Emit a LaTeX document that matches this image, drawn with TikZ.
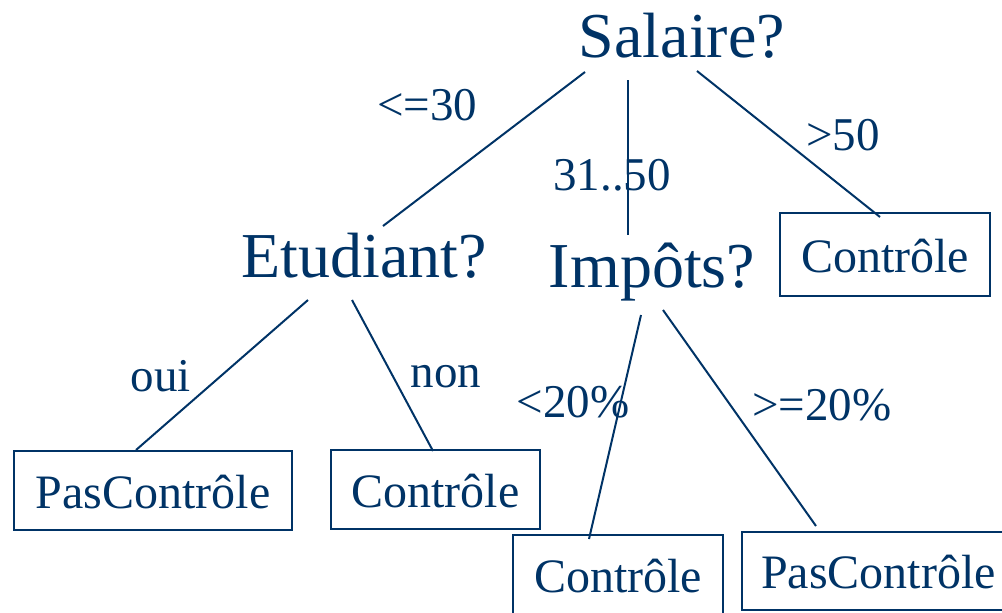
\documentclass[tikz,border=0pt]{standalone}
\usepackage{fontspec}
\setmainfont{Liberation Serif}
\usetikzlibrary{calc}
\definecolor{dblue}{RGB}{0,51,102}
\begin{document}
\begin{tikzpicture}[x=0.75pt,y=-0.75pt,
  every node/.style={text=dblue},
  q/.style={font=\fontsize{48}{58}\selectfont, anchor=base, inner sep=0pt},
  lab/.style={font=\fontsize{35.25}{42}\selectfont, anchor=base, inner sep=0pt},
  leaf/.style={draw=dblue, line width=1.5pt, font=\fontsize{36}{43}\selectfont,
    text height=26.25pt, text depth=0pt, inner xsep=0pt, inner ysep=0pt},
  edge/.style={draw=dblue, line width=1.5pt}]
\useasboundingbox (0,0) rectangle (1002,612);
\clip (0,0) rectangle (1002,612);
% question nodes
\node[q] (sal) at (682,57) {Salaire?};
\node[q] (etu) at (364,277) {Etudiant?};
\node[q] (imp) at (652,287) {Impôts?};
% leaves
\node[leaf, minimum width=157.5pt, minimum height=62.25pt] (c1) at (885,254.5) {Contrôle};
\node[leaf, minimum width=208.5pt, minimum height=59.25pt] (p1) at (153,490.5) {PasContrôle};
\node[leaf, minimum width=156.75pt, minimum height=59.25pt] (c2) at (435.5,489.5) {Contrôle};
\node[leaf, minimum width=157.5pt, minimum height=59.25pt] (c3) at (618,574.5) {Contrôle};
\node[leaf, minimum width=204.75pt, minimum height=58.5pt] (p2) at (878.5,571) {PasContrôle};
% edge labels
\node[lab] (l1) at (427,120) {<=30};
\node[lab] (l2) at (612,190) {31..50};
\node[lab] (l3) at (843,150) {>50};
\node[lab] (l4) at (161,391) {oui};
\node[lab] (l5) at (446,387) {non};
\node[lab] (l6) at (573,417) {<20\%};
\node[lab] (l7) at (822,420) {>=20\%};
% connectors
\draw[edge] ($(sal.base)+(-97,15)$) -- ($(etu.base)+(19,-51)$);
\draw[edge] ($(sal.base)+(-54,23)$) -- ($(imp.base)+(-24,-52)$);
\draw[edge] ($(sal.base)+(15,14)$) -- ($(c1.north)+(-5,5)$);
\draw[edge] ($(etu.base)+(-56,23)$) -- ($(p1.north)+(-17,0)$);
\draw[edge] ($(etu.base)+(-12,23)$) -- ($(c2.north)+(-2.5,2)$);
\draw[edge] ($(imp.base)+(-11,28)$) -- ($(c3.north)+(-29,5)$);
\draw[edge] ($(imp.base)+(11,23)$) -- ($(p2.north)+(-62.5,-5)$);
\end{tikzpicture}
\end{document}
